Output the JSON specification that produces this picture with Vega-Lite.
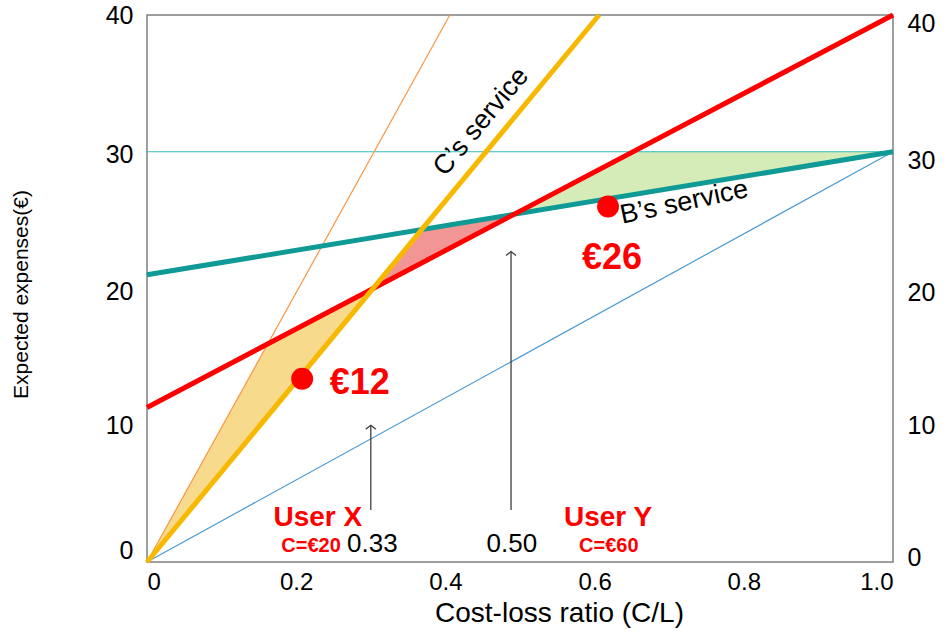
{
  "$schema": "https://vega.github.io/schema/vega-lite/v6.json",
  "width": 746,
  "height": 547,
  "autosize": "none",
  "padding": {"left": 147, "top": 15, "right": 55, "bottom": 72},
  "background": "white",
  "config": {
    "font": "Liberation Sans",
    "view": {"stroke": "#7f7f7f", "strokeWidth": 1.5},
    "axis": {"domain": false, "ticks": false, "grid": false, "labelColor": "#000", "titleColor": "#000", "titleFontWeight": "normal", "labelFont": "Liberation Sans", "titleFont": "Liberation Sans"}
  },
  "datasets": {
    "lines": [
      {"series": "thin30", "x": 0, "y": 30}, {"series": "thin30", "x": 1, "y": 30},
      {"series": "blue", "x": 0, "y": 0}, {"series": "blue", "x": 1, "y": 30},
      {"series": "orange", "x": 0, "y": 0}, {"series": "orange", "x": 0.406, "y": 40},
      {"series": "B", "x": 0, "y": 21}, {"series": "B", "x": 1, "y": 30},
      {"series": "A", "x": 0, "y": 11.3}, {"series": "A", "x": 1, "y": 40},
      {"series": "C", "x": 0, "y": 0}, {"series": "C", "x": 0.606, "y": 40}
    ],
    "fills": [
      {"region": "X", "x": 0, "lo": 0, "hi": 0},
      {"region": "X", "x": 0.162, "lo": 10.69, "hi": 15.96},
      {"region": "X", "x": 0.3029, "lo": 19.99, "hi": 19.99},
      {"region": "M", "x": 0.3029, "lo": 19.99, "hi": 19.99},
      {"region": "M", "x": 0.3684, "lo": 21.87, "hi": 24.32},
      {"region": "M", "x": 0.4924, "lo": 25.43, "hi": 25.43},
      {"region": "Y", "x": 0.4924, "lo": 25.43, "hi": 25.43},
      {"region": "Y", "x": 0.6516, "lo": 26.86, "hi": 30},
      {"region": "Y", "x": 1.0, "lo": 30, "hi": 30}
    ]
  },
  "layer": [
    {
      "encoding": {
        "x": {"type": "quantitative", "scale": {"domain": [0, 1], "nice": false},
          "axis": {"values": [0, 0.2, 0.4, 0.6, 0.8, 1], "labelExpr": "datum.value == 0 ? '0' : format(datum.value, '.1f')", "labelFontSize": 24, "labelPadding": 8, "title": "Cost-loss ratio (C/L)", "titleFontSize": 28, "titlePadding": 5, "titleX": 412}},
        "y": {"type": "quantitative", "scale": {"domain": [0, 40], "nice": false},
          "axis": {"values": [0, 10, 20, 30, 40], "labelFontSize": 25, "labelPadding": 14, "labelOffset": {"condition": [{"test": "datum.value == 0", "value": -12}, {"test": "datum.value == 30 || datum.value == 20", "value": 3}], "value": 0}, "title": "Expected expenses(€)", "titleFontSize": 21, "titleX": -116, "titleY": 279}}
      },
      "layer": [
        {
          "data": {"name": "fills"},
          "mark": {"type": "area", "opacity": 0.9},
          "encoding": {
            "x": {"field": "x"},
            "y": {"field": "lo"},
            "y2": {"field": "hi"},
            "color": {"field": "region", "type": "nominal", "scale": {"domain": ["X", "M", "Y"], "range": ["#f7d680", "#f08a8a", "#d2eab0"]}, "legend": null}
          }
        },
        {
          "data": {"name": "lines"},
          "transform": [{"filter": "datum.series == 'thin30'"}],
          "mark": {"type": "line", "strokeWidth": 1.2, "color": "#30bcbc"},
          "encoding": {"x": {"field": "x"}, "y": {"field": "y"}}
        },
        {
          "data": {"name": "lines"},
          "transform": [{"filter": "datum.series == 'blue'"}],
          "mark": {"type": "line", "strokeWidth": 1.2, "color": "#4a9bd6"},
          "encoding": {"x": {"field": "x"}, "y": {"field": "y"}}
        },
        {
          "data": {"name": "lines"},
          "transform": [{"filter": "datum.series == 'orange'"}],
          "mark": {"type": "line", "strokeWidth": 1.2, "color": "#f79646"},
          "encoding": {"x": {"field": "x"}, "y": {"field": "y"}}
        },
        {
          "data": {"name": "lines"},
          "transform": [{"filter": "datum.series == 'B'"}],
          "mark": {"type": "line", "strokeWidth": 5, "color": "#0f9a96"},
          "encoding": {"x": {"field": "x"}, "y": {"field": "y"}}
        },
        {
          "data": {"name": "lines"},
          "transform": [{"filter": "datum.series == 'A'"}],
          "mark": {"type": "line", "strokeWidth": 5, "color": "#ff0000"},
          "encoding": {"x": {"field": "x"}, "y": {"field": "y"}}
        },
        {
          "data": {"name": "lines"},
          "transform": [{"filter": "datum.series == 'C'"}],
          "mark": {"type": "line", "strokeWidth": 5, "color": "#f7b800"},
          "encoding": {"x": {"field": "x"}, "y": {"field": "y"}}
        },
        {
          "data": {"values": [{"x": 0.300, "y1": 3.8, "y2": 10.0}, {"x": 0.488, "y1": 3.8, "y2": 22.7}]},
          "mark": {"type": "rule", "color": "#404040", "strokeWidth": 1.3},
          "encoding": {"x": {"field": "x"}, "y": {"field": "y1"}, "y2": {"field": "y2"}}
        },
        {
          "data": {"values": [{"x": 0.300, "y": 10.0}, {"x": 0.488, "y": 22.7}]},
          "mark": {"type": "point", "shape": "M-1,0.8L0,0L1,0.8", "size": 100, "filled": false, "stroke": "#404040", "strokeWidth": 1.3, "opacity": 1},
          "encoding": {"x": {"field": "x"}, "y": {"field": "y"}}
        },
        {
          "data": {"values": [{"x": 0.208, "y": 13.4}, {"x": 0.618, "y": 26.0}]},
          "mark": {"type": "circle", "size": 480, "color": "#ff0000", "opacity": 1},
          "encoding": {"x": {"field": "x"}, "y": {"field": "y"}}
        },
        {
          "data": {"values": [{"x": 0.245, "y": 13.1, "t": "€12"}, {"x": 0.583, "y": 22.2, "t": "€26"}]},
          "mark": {"type": "text", "align": "left", "baseline": "middle", "fontSize": 36, "fontWeight": "bold", "color": "#ff0000"},
          "encoding": {"x": {"field": "x"}, "y": {"field": "y"}, "text": {"field": "t"}}
        },
        {
          "data": {"values": [{"x": 0.229, "y": 3.2, "t": "User X"}, {"x": 0.618, "y": 3.2, "t": "User Y"}]},
          "mark": {"type": "text", "align": "center", "baseline": "middle", "fontSize": 28, "fontWeight": "bold", "color": "#ff0000"},
          "encoding": {"x": {"field": "x"}, "y": {"field": "y"}, "text": {"field": "t"}}
        },
        {
          "data": {"values": [{"x": 0.22, "y": 1.2, "t": "C=€20"}, {"x": 0.619, "y": 1.2, "t": "C=€60"}]},
          "mark": {"type": "text", "align": "center", "baseline": "middle", "fontSize": 20, "fontWeight": "bold", "color": "#ff0000"},
          "encoding": {"x": {"field": "x"}, "y": {"field": "y"}, "text": {"field": "t"}}
        },
        {
          "data": {"values": [{"x": 0.302, "y": 1.3, "t": "0.33"}, {"x": 0.489, "y": 1.3, "t": "0.50"}]},
          "mark": {"type": "text", "align": "center", "baseline": "middle", "fontSize": 26, "color": "#000"},
          "encoding": {"x": {"field": "x"}, "y": {"field": "y"}, "text": {"field": "t"}}
        },
        {
          "data": {"values": [{"x": 0.448, "y": 32.2, "t": "C’s service"}]},
          "mark": {"type": "text", "align": "center", "baseline": "middle", "fontSize": 27, "angle": -50, "color": "#000"},
          "encoding": {"x": {"field": "x"}, "y": {"field": "y"}, "text": {"field": "t"}}
        },
        {
          "data": {"values": [{"x": 0.72, "y": 26.3, "t": "B’s service"}]},
          "mark": {"type": "text", "align": "center", "baseline": "middle", "fontSize": 27, "angle": -12, "color": "#000"},
          "encoding": {"x": {"field": "x"}, "y": {"field": "y"}, "text": {"field": "t"}}
        }
      ]
    },
    {
      "data": {"values": [{"v": 0}, {"v": 40}]},
      "mark": {"type": "point", "opacity": 0},
      "encoding": {
        "y": {"field": "v", "type": "quantitative", "scale": {"domain": [0, 40], "nice": false},
          "axis": {"orient": "right", "values": [0, 10, 20, 30, 40], "labelFontSize": 25, "labelPadding": 14, "title": null,
            "labelOffset": {"condition": [{"test": "datum.value == 40", "value": 8}, {"test": "datum.value == 30", "value": 9}, {"test": "datum.value == 20", "value": 4}, {"test": "datum.value == 0", "value": -5}], "value": 0}}}
      }
    }
  ],
  "resolve": {"scale": {"y": "independent"}}
}
